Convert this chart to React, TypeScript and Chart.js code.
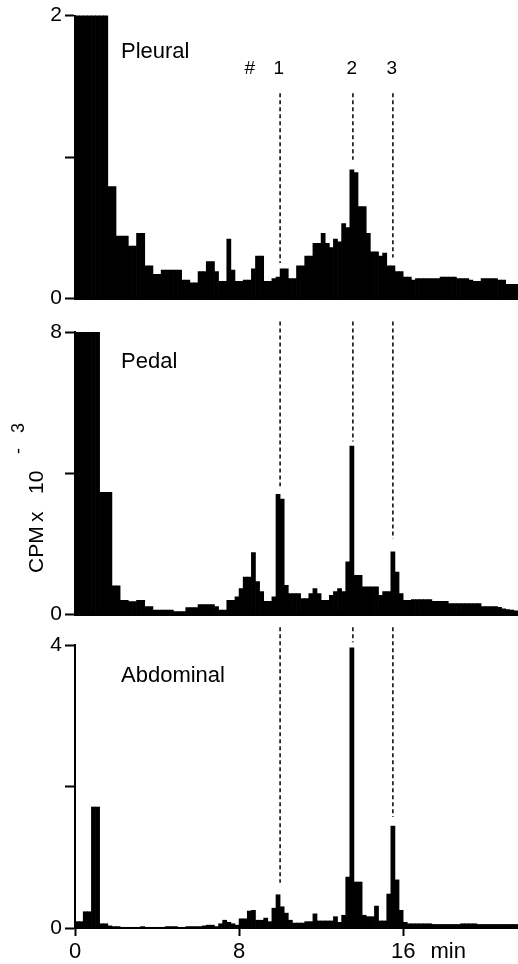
import React, { useEffect, useRef } from 'react';
import { Chart, registerables } from 'chart.js';

Chart.register(...registerables);

const FONT = '"Liberation Sans", Arial, Helvetica, sans-serif';

// time bins (min)
const BIN_MIN = 0.2;
const X_MAX = 21.6;
const X_TICKS = [0, 8, 16];
const X_UNIT_LABEL = 'min';
const X_UNIT_AT = 18.2;

// CPM x 10^-3 per 0.2-min bin
const PLEURAL = [
  3.2, 3.2, 3.2, 3.2, 3.2, 3.2, 3.2, 3.2, 0.79, 0.79,
  0.44, 0.44, 0.44, 0.37, 0.37, 0.46, 0.46, 0.23, 0.23, 0.17,
  0.17, 0.2, 0.2, 0.2, 0.2, 0.2, 0.13, 0.13, 0.11, 0.11,
  0.19, 0.19, 0.26, 0.26, 0.19, 0.12, 0.12, 0.42, 0.2, 0.12,
  0.12, 0.13, 0.13, 0.21, 0.3, 0.3, 0.12, 0.12, 0.14, 0.15,
  0.21, 0.21, 0.14, 0.14, 0.23, 0.23, 0.3, 0.3, 0.39, 0.39,
  0.46, 0.39, 0.36, 0.42, 0.4, 0.53, 0.5, 0.91, 0.89, 0.65,
  0.65, 0.46, 0.33, 0.33, 0.3, 0.32, 0.23, 0.23, 0.19, 0.19,
  0.15, 0.15, 0.13, 0.14, 0.14, 0.14, 0.14, 0.14, 0.14, 0.15,
  0.15, 0.15, 0.15, 0.14, 0.14, 0.14, 0.13, 0.12, 0.12, 0.14,
  0.14, 0.14, 0.14, 0.13, 0.13, 0.1, 0.1, 0.1,
];

const PEDAL = [
  12, 12, 12, 12, 12, 12, 3.46, 3.46, 3.46, 0.81,
  0.81, 0.4, 0.4, 0.36, 0.36, 0.4, 0.4, 0.22, 0.22, 0.12,
  0.12, 0.12, 0.12, 0.12, 0.08, 0.08, 0.08, 0.19, 0.19, 0.19,
  0.28, 0.28, 0.28, 0.28, 0.22, 0.12, 0.12, 0.4, 0.4, 0.5,
  0.73, 1.06, 1.06, 1.75, 0.93, 0.65, 0.37, 0.37, 0.5, 3.4,
  3.27, 0.82, 0.59, 0.59, 0.59, 0.45, 0.45, 0.59, 0.73, 0.59,
  0.4, 0.4, 0.54, 0.65, 0.73, 0.65, 1.49, 4.77, 1.11, 1.11,
  0.78, 0.78, 0.78, 0.78, 0.54, 0.65, 0.65, 1.77, 1.2, 0.59,
  0.4, 0.4, 0.42, 0.42, 0.42, 0.42, 0.42, 0.37, 0.37, 0.37,
  0.37, 0.31, 0.31, 0.31, 0.31, 0.31, 0.31, 0.31, 0.31, 0.22,
  0.22, 0.22, 0.22, 0.2, 0.16, 0.14, 0.12, 0.1,
];

const ABDOMINAL = [
  0.09, 0.09, 0.23, 0.23, 1.71, 1.71, 0.06, 0.06, 0.03, 0.02,
  0.02, 0.01, 0.01, 0.01, 0.01, 0.01, 0.02, 0.01, 0.01, 0.01,
  0.01, 0.01, 0.02, 0.02, 0.02, 0.01, 0.01, 0.02, 0.02, 0.02,
  0.02, 0.03, 0.04, 0.04, 0.02, 0.06, 0.11, 0.08, 0.06, 0.04,
  0.13, 0.13, 0.24, 0.25, 0.11, 0.11, 0.14, 0.09, 0.28, 0.47,
  0.3, 0.21, 0.11, 0.07, 0.07, 0.07, 0.09, 0.09, 0.2, 0.1,
  0.1, 0.1, 0.1, 0.16, 0.08, 0.18, 0.72, 3.96, 0.65, 0.65,
  0.18, 0.16, 0.16, 0.31, 0.1, 0.1, 0.48, 1.44, 0.68, 0.25,
  0.08, 0.06, 0.06, 0.06, 0.06, 0.06, 0.06, 0.05, 0.05, 0.05,
  0.05, 0.05, 0.05, 0.05, 0.06, 0.06, 0.06, 0.06, 0.05, 0.05,
  0.05, 0.05, 0.05, 0.05, 0.05, 0.05, 0.05, 0.05,
];

const SERIES = [PLEURAL, PEDAL, ABDOMINAL];
const PANEL_NAMES = ['Pleural', 'Pedal', 'Abdominal'];
const Y_MAX = [2, 8, 4];

// dashed marker lines (min) and their extent in each panel (data units)
const DASH_X = [10.0, 13.55, 15.5];
const DASH_TOP = [1.45, 8.3, 4.25];
const DASH_END_PLEURAL = [0.25, 0.98, 0.29];
const DASH_END_PEDAL = [3.63, 4.9, 2.14];
const DASH_END_ABDOMINAL = [0.64, 4.04, 1.57];
const DASH_ENDS = [DASH_END_PLEURAL, DASH_END_PEDAL, DASH_END_ABDOMINAL];

const PEAK_LABELS = ['#', '1', '2', '3'];
const PEAK_LABEL_X = [8.52, 9.94, 13.5, 15.44];

const Y_TITLE = 'CPM x 10';
const Y_TITLE_EXP = '-3';

// layout (pixels)
const LAYOUT = [
  { top: 0, height: 314, padTop: 15, padBottom: 14, nameDy: 42 },
  { top: 314, height: 316, padTop: 18, padBottom: 14, nameDy: 36 },
  { top: 620, height: 344, padTop: 25, padBottom: 0, nameDy: 37 },
];

const textPlugin = {
  id: 'panelText',
  afterDraw(chart: any, _args: any, opts: any) {
    const { ctx, chartArea, scales } = chart;
    ctx.save();
    ctx.fillStyle = '#000';
    ctx.font = `22px ${FONT}`;
    ctx.textAlign = 'left';
    ctx.textBaseline = 'alphabetic';
    ctx.fillText(opts.name, chartArea.left + 46, chartArea.top + opts.nameDy);

    if (opts.peaks) {
      ctx.font = `19px ${FONT}`;
      ctx.textAlign = 'center';
      ctx.textBaseline = 'middle';
      PEAK_LABELS.forEach((t, i) => {
        ctx.fillText(t, scales.x.getPixelForValue(PEAK_LABEL_X[i]), 69);
      });
    }

    if (opts.yTitle) {
      ctx.translate(43, 573 - opts.canvasTop);
      ctx.rotate(-Math.PI / 2);
      ctx.textAlign = 'left';
      ctx.textBaseline = 'alphabetic';
      ctx.font = `21px ${FONT}`;
      const parts = Y_TITLE.split(' ');
      const offs = [0, 51, 79];
      parts.forEach((p, i) => ctx.fillText(p, offs[i], 0));
      ctx.font = `18px ${FONT}`;
      ctx.fillText(Y_TITLE_EXP[0], 119, -19);
      ctx.fillText(Y_TITLE_EXP.slice(1), 140, -19);
    }
    ctx.restore();
  },
};

function Panel({ index }: { index: number }) {
  const ref = useRef<HTMLCanvasElement | null>(null);
  const lay = LAYOUT[index];
  useEffect(() => {
    if (!ref.current) return;
    const ymax = Y_MAX[index];
    const showX = index === 2;
    const values = SERIES[index];
    const datasets: any[] = [
      {
        type: 'bar',
        data: values.map((v, i) => ({ x: (i + 0.5) * BIN_MIN, y: v })),
        backgroundColor: '#000',
        borderWidth: 0,
        barPercentage: 1,
        categoryPercentage: 1,
        order: 2,
      },
      ...DASH_X.map((x, k) => ({
        type: 'line',
        data: [
          { x, y: DASH_TOP[index] },
          { x, y: DASH_ENDS[index][k] },
        ],
        borderColor: '#000',
        borderWidth: 1.5,
        borderDash: [4, 3],
        pointRadius: 0,
        fill: false,
        clip: false,
        order: 1,
      })),
    ];
    const chart = new Chart(ref.current, {
      type: 'bar',
      data: { datasets },
      plugins: [textPlugin as any],
      options: {
        animation: false,
        responsive: false,
        devicePixelRatio: 1,
        events: [],
        layout: { padding: { top: lay.padTop, bottom: lay.padBottom, left: 0, right: 0 } },
        plugins: {
          legend: { display: false },
          tooltip: { enabled: false },
          panelText: {
            name: PANEL_NAMES[index],
            nameDy: lay.nameDy,
            peaks: index === 0,
            yTitle: index === 1,
            canvasTop: lay.top,
          },
        } as any,
        scales: {
          x: {
            type: 'linear',
            min: 0,
            max: X_MAX,
            offset: false,
            afterBuildTicks: (s: any) => {
              s.ticks = showX ? [...X_TICKS, X_UNIT_AT].map((v) => ({ value: v })) : [];
            },
            afterFit: (s: any) => {
              s.height = showX ? 36 : 0;
            },
            ticks: {
              display: showX,
              autoSkip: false,
              maxRotation: 0,
              padding: 3,
              color: '#000',
              font: { family: FONT, size: 22 },
              callback: (v: any) => (v === X_UNIT_AT ? X_UNIT_LABEL : String(v)),
            },
            grid: {
              display: showX,
              drawOnChartArea: false,
              drawTicks: showX,
              tickLength: 8,
              tickWidth: 2,
              offset: false,
              tickColor: (c: any) => (c.tick && c.tick.value === X_UNIT_AT ? 'rgba(0,0,0,0)' : '#000'),
            },
            border: { display: true, color: '#000', width: showX ? 2 : 3 },
          },
          y: {
            type: 'linear',
            min: 0,
            max: ymax,
            afterBuildTicks: (s: any) => {
              s.ticks = [0, ymax / 2, ymax].map((v) => ({ value: v }));
            },
            afterFit: (s: any) => {
              s.width = 75;
            },
            ticks: {
              padding: 3,
              color: '#000',
              font: { family: FONT, size: 21 },
              callback: (v: any) => (v === 0 || v === ymax ? String(v) : ''),
            },
            grid: {
              drawOnChartArea: false,
              drawTicks: true,
              tickLength: 10,
              tickWidth: 2,
              color: '#000',
            },
            border: { display: true, color: '#000', width: 2 },
          },
        },
      } as any,
    });
    return () => chart.destroy();
  }, [index]);
  return (
    <canvas
      ref={ref}
      width={518}
      height={lay.height}
      style={{ position: 'absolute', left: 0, top: lay.top, width: 518, height: lay.height }}
    />
  );
}

export default function App() {
  return (
    <div style={{ position: 'absolute', left: 0, top: 0, width: 518, height: 964, background: '#fff' }}>
      <Panel index={0} />
      <Panel index={1} />
      <Panel index={2} />
    </div>
  );
}
